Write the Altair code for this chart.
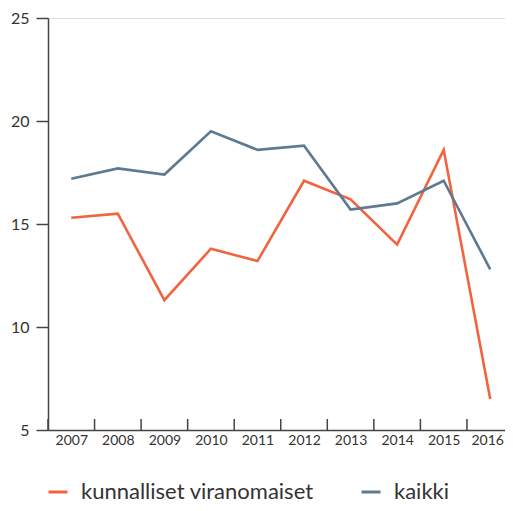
import altair as alt
import pandas as pd

years = ["2007", "2008", "2009", "2010", "2011", "2012", "2013", "2014", "2015", "2016"]
kunnalliset = [15.3, 15.5, 11.3, 13.8, 13.2, 17.1, 16.2, 14.0, 18.6, 6.5]
kaikki = [17.2, 17.7, 17.4, 19.5, 18.6, 18.8, 15.7, 16.0, 17.1, 12.8]
series_names = ["kunnalliset viranomaiset", "kaikki"]
series_colors = ["#F26440", "#5E7A90"]
y_ticks = [5, 10, 15, 20, 25]

rows = []
for i, y in enumerate(years):
    rows.append({"year": y, "series": series_names[0], "value": kunnalliset[i]})
    rows.append({"year": y, "series": series_names[1], "value": kaikki[i]})
df = pd.DataFrame(rows)
df_years = pd.DataFrame({"year": years})

W, H = 457, 412
XR = 465.5
STEP = XR / len(years)
FONT = "Lato"
TXT = "#333333"
AX = "#444444"

xscale = alt.Scale(type="point", padding=0.5, domain=years, range=[0, XR])

lines = alt.Chart(df).mark_line(strokeWidth=2.6).encode(
    x=alt.X("year:O", scale=xscale, title=None,
            axis=alt.Axis(labelAngle=0, labelAlign="center", ticks=False, labelPadding=10,
                          labelFontSize=14, labelColor=TXT, labelFont=FONT,
                          labelOffset=alt.condition("datum.value == '2016'", alt.value(-3), alt.value(0)),
                          domainColor=AX, domainWidth=1.5)),
    y=alt.Y("value:Q", scale=alt.Scale(domain=[5, 25], nice=False), title=None,
            axis=alt.Axis(values=y_ticks, grid=False, tickSize=12, tickColor=AX, tickWidth=1.5,
                          labelPadding=7, labelFontSize=16, labelColor=TXT, labelFont=FONT,
                          domainColor=AX, domainWidth=1.5)),
    color=alt.Color("series:N", sort=series_names,
                    scale=alt.Scale(domain=series_names, range=series_colors),
                    legend=alt.Legend(title=None, orient="none", direction="horizontal",
                                      legendX=-1, legendY=463, symbolType="stroke",
                                      symbolSize=361, symbolStrokeWidth=3, labelFontSize=22,
                                      labelFont=FONT, labelColor=TXT, labelOffset=12,
                                      labelLimit=400, columnPadding=41, padding=0)),
)

ticks = alt.Chart(df_years).mark_rule(color=AX, strokeWidth=1.5, xOffset=-STEP / 2).encode(
    x=alt.X("year:O", scale=xscale),
    y=alt.value(H),
    y2=alt.value(H - 11),
)

chart = alt.layer(ticks, lines).properties(
    width=W, height=H,
    autosize=alt.AutoSizeParams(type="none"),
    padding={"left": 40, "top": 10, "right": 0, "bottom": 73},
).configure_view(stroke=None).configure(background="white")

chart.save("out.html", embed_options={"renderer": "svg", "actions": False})
